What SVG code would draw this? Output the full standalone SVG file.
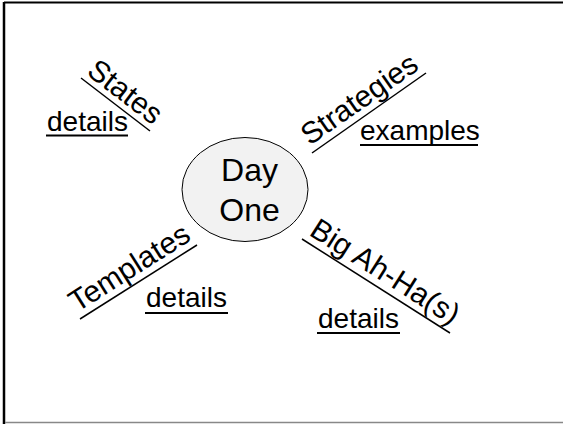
<svg xmlns="http://www.w3.org/2000/svg" width="563" height="424" viewBox="0 0 563 424">
  <style>
    .lbl { font-family: "Liberation Sans", Arial, sans-serif; font-size: 30px; fill: #000; text-anchor: middle; }
    .det { font-family: "Liberation Sans", Arial, sans-serif; font-size: 28px; fill: #000; }
    .hub { font-family: "Liberation Sans", Arial, sans-serif; font-size: 32px; fill: #000; text-anchor: middle; }
    .rule { stroke: #000; stroke-width: 1.5; fill: none; }
    .uline { stroke: #000; stroke-width: 2; fill: none; }
  </style>

  <!-- page frame -->
  <rect x="0" y="0" width="563" height="424" fill="#fff"/>
  <line x1="4" y1="2.5" x2="563" y2="2.5" stroke="#000" stroke-width="2"/>
  <line x1="4" y1="2" x2="4" y2="424" stroke="#000" stroke-width="2.5"/>
  <line x1="5" y1="422.5" x2="563" y2="422.5" stroke="#888" stroke-width="1.5"/>

  <!-- hub -->
  <g id="day-one">
    <ellipse cx="245" cy="189.5" rx="63" ry="52" fill="#f2f2f2" stroke="#000" stroke-width="1"/>
    <text class="hub" x="249.5" y="181">Day</text>
    <text class="hub" x="249.5" y="221">One</text>
  </g>

  <!-- slanted rules under the branch titles -->
  <g id="connectors">
    <line class="rule" x1="81" y1="78" x2="150" y2="131"/>
    <line class="rule" x1="312" y1="153" x2="426" y2="73"/>
    <line class="rule" x1="80" y1="319" x2="197" y2="245"/>
    <line class="rule" x1="302" y1="239" x2="450" y2="333"/>
  </g>

  <g id="states">
    <text class="lbl" transform="translate(119.2 99.7) rotate(37.5)">States</text>
    <text class="det" x="47" y="131">details</text>
    <line class="uline" x1="46" y1="135.5" x2="128" y2="135.5"/>
  </g>

  <g id="strategies">
    <text class="lbl" transform="translate(365 107.3) rotate(-35)">Strategies</text>
    <text class="det" x="360" y="140">examples</text>
    <line class="uline" x1="360" y1="145" x2="478" y2="145"/>
  </g>

  <g id="templates">
    <text class="lbl" transform="translate(134.7 276.1) rotate(-32.4)">Templates</text>
    <text class="det" x="146" y="307">details</text>
    <line class="uline" x1="145" y1="313" x2="228" y2="313"/>
  </g>

  <g id="big-ah-has">
    <text class="lbl" transform="translate(379.8 280.1) rotate(32.4)">Big Ah-Ha(s)</text>
    <text class="det" x="318" y="328">details</text>
    <line class="uline" x1="317" y1="333" x2="400" y2="333"/>
  </g>
</svg>
